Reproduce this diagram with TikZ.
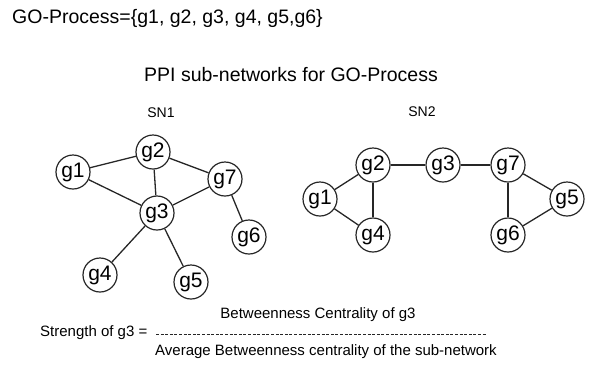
\documentclass[tikz,border=0pt]{standalone}
\usepackage{fontspec}
\setmainfont{Liberation Sans}
\begin{document}
\begin{tikzpicture}[x=1pt,y=-1pt,
  gene/.style={circle,draw=black!85,line width=1.2pt,minimum size=34pt,inner sep=0pt,font=\fontsize{21}{21}\selectfont},
  link/.style={draw=black!85,line width=1.3pt},
  lbl/.style={inner sep=0pt,font=\fontsize{14}{14}\selectfont},
  big/.style={inner sep=0pt,font=\fontsize{19.5}{20}\selectfont},
  eq/.style={inner sep=0pt,font=\fontsize{15}{15}\selectfont}]
\useasboundingbox (0,0) rectangle (589,381);
\node[big,anchor=west] (title) at (12,18) {GO-Process=\{g1, g2, g3, g4, g5,g6\}};
\node[big] (ppi) at (291,75) {PPI sub-networks for GO-Process};
% SN1
\node[lbl] (sn1) at (161,113) {SN1};
\node[gene] (a1) at (73,172) {g1};
\node[gene] (a2) at (153,152) {g2};
\node[gene] (a7) at (225,179) {g7};
\node[gene] (a3) at (157,213) {g3};
\node[gene] (a6) at (249,237) {g6};
\node[gene] (a4) at (100,275) {g4};
\node[gene] (a5) at (191,282) {g5};
\draw[link] (a1) -- (a2);
\draw[link] (a1) -- (a3);
\draw[link] (a2) -- (a3);
\draw[link] (a2) -- (a7);
\draw[link] (a7) -- (a3);
\draw[link] (a7) -- (a6);
\draw[link] (a3) -- (a4);
\draw[link] (a3) -- (a5);
% SN2
\node[lbl] (sn2) at (422,112) {SN2};
\node[gene] (b2) at (373,165) {g2};
\node[gene] (b3) at (443,165) {g3};
\node[gene] (b7) at (508,165) {g7};
\node[gene] (b1) at (320,199) {g1};
\node[gene] (b4) at (373,235) {g4};
\node[gene] (b6) at (508,235) {g6};
\node[gene] (b5) at (567,199) {g5};
\draw[link] (b1) -- (b2);
\draw[link] (b1) -- (b4);
\draw[link] (b2) -- (b4);
\draw[link] (b2) -- (b3);
\draw[link] (b3) -- (b7);
\draw[link] (b7) -- (b5);
\draw[link] (b7) -- (b6);
\draw[link] (b6) -- (b5);
% formula
\node[eq] (num) at (318,315) {Betweenness Centrality of g3};
\node[eq,anchor=west] (str) at (40,333) {Strength of g3 =};
\coordinate (d1) at (156,334);
\coordinate (d2) at (486,334);
\draw[black!85,line width=1pt,dash pattern=on 3pt off 1.6pt] (d1) -- (d2);
\node[eq,anchor=west] (den) at (155,352) {Average Betweenness centrality of the sub-network};
\end{tikzpicture}
\end{document}
